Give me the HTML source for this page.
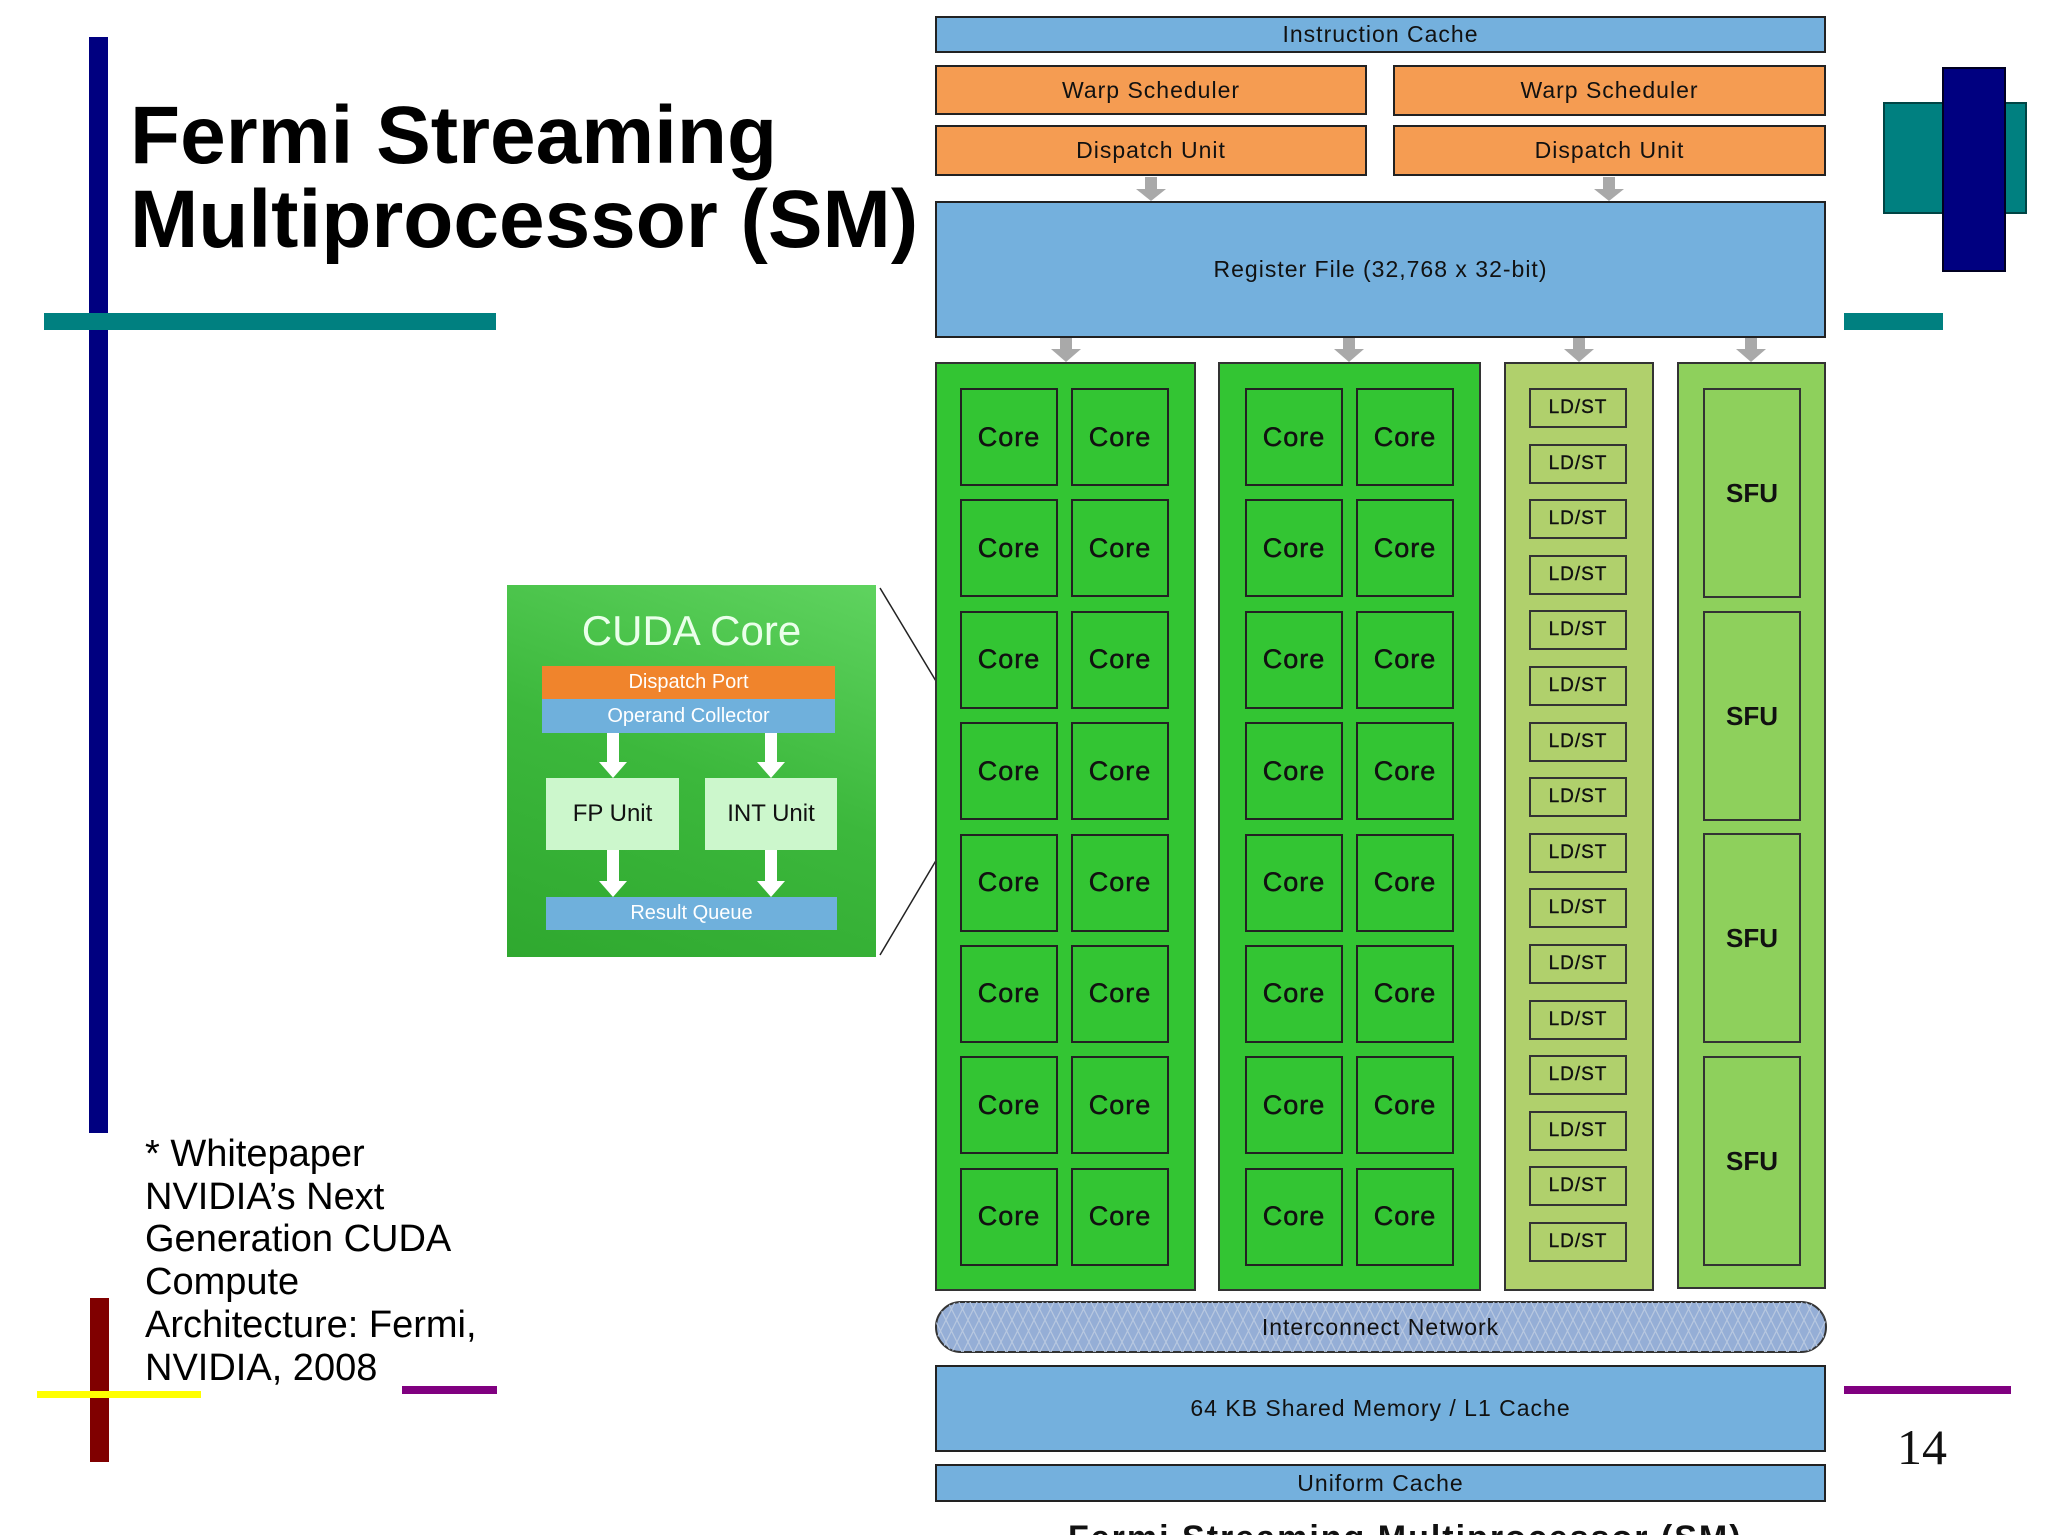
<!DOCTYPE html>
<html><head><meta charset="utf-8"><style>
*{margin:0;padding:0;box-sizing:border-box}
html,body{width:2048px;height:1535px;overflow:hidden}
body{background:#fff;position:relative;font-family:"Liberation Sans",sans-serif}
.a{position:absolute}
.box{position:absolute;display:flex;align-items:center;justify-content:center;border:2px solid #222;color:#111;font-size:23px;letter-spacing:1px}
.blue{background:#74b0dd}
.or{background:#f59c52}
.blk{position:absolute;border:2px solid #333}
.grid{position:absolute;display:grid;grid-template-columns:98px 98px;column-gap:13px;grid-auto-rows:98px;row-gap:13.4px}
.grid div{border:2px solid #222;background:#33c533;display:flex;align-items:center;justify-content:center;font-size:27px;color:#111;letter-spacing:1px;-webkit-text-stroke:0.5px #111}
.ld{position:absolute;left:1529px;width:98px;height:40px;border:2px solid #333;background:#b0d06c;display:flex;align-items:center;justify-content:center;font-size:19px;color:#111;letter-spacing:1px;-webkit-text-stroke:0.4px #111}
.sfu{position:absolute;left:1703px;width:98px;height:210px;border:2px solid #333;background:#8ed05c;display:flex;align-items:center;justify-content:center;font-size:26px;font-weight:bold;color:#111}
</style></head><body>

<div class="a" style="left:89px;top:37px;width:19px;height:1096px;background:#000080"></div>
<div class="a" style="left:44px;top:313px;width:452px;height:17px;background:#008080"></div>
<div class="a" style="left:90px;top:1298px;width:19px;height:164px;background:#800000"></div>
<div class="a" style="left:37px;top:1391px;width:164px;height:7px;background:#ffff00"></div>
<div class="a" style="left:402px;top:1386px;width:95px;height:8px;background:#800080"></div>
<div class="a" style="left:1883px;top:102px;width:144px;height:112px;background:#008080;border:2px solid #044"></div>
<div class="a" style="left:1942px;top:67px;width:64px;height:205px;background:#000080;border:2px solid #002"></div>
<div class="a" style="left:1844px;top:313px;width:99px;height:17px;background:#008080"></div>
<div class="a" style="left:1844px;top:1386px;width:167px;height:8px;background:#800080"></div>
<div class="a" style="left:1897px;top:1418px;font-family:'Liberation Serif',serif;font-size:50px;color:#111">14</div>

<div class="a" style="left:130px;top:94px;font-size:82px;font-weight:bold;line-height:84px;color:#000">Fermi Streaming<br>Multiprocessor (SM)</div>

<div class="a" style="left:145px;top:1133px;font-size:38px;line-height:42.7px;color:#000">* Whitepaper<br>NVIDIA’s Next<br>Generation CUDA<br>Compute<br>Architecture: Fermi,<br>NVIDIA, 2008</div>

<div class="a" style="left:507px;top:585px;width:369px;height:372px;background:linear-gradient(200deg,#5fd35f 0%,#3cb83c 50%,#2fa82f 100%)"></div>
<div class="a" style="left:507px;top:607px;width:369px;text-align:center;color:#eaffea;font-size:42px">CUDA Core</div>
<div class="a" style="left:542px;top:666px;width:293px;height:33px;background:#f0842c;color:#fff;font-size:20px;display:flex;align-items:center;justify-content:center">Dispatch Port</div>
<div class="a" style="left:542px;top:699px;width:293px;height:34px;background:#6fb0dc;color:#fff;font-size:20px;display:flex;align-items:center;justify-content:center">Operand Collector</div>
<div class="a" style="left:546px;top:778px;width:133px;height:72px;background:#ccf7cc;color:#111;font-size:24px;display:flex;align-items:center;justify-content:center">FP Unit</div>
<div class="a" style="left:705px;top:778px;width:132px;height:72px;background:#ccf7cc;color:#111;font-size:24px;display:flex;align-items:center;justify-content:center">INT Unit</div>
<div class="a" style="left:546px;top:897px;width:291px;height:33px;background:#6fb0dc;color:#fff;font-size:20px;display:flex;align-items:center;justify-content:center">Result Queue</div>
<svg class="a" style="left:0;top:0" width="2048" height="1535">
<g fill="#fff">
<rect x="607" y="733" width="12" height="30"/><polygon points="599,762 627,762 613,778"/>
<rect x="765" y="733" width="12" height="30"/><polygon points="757,762 785,762 771,778"/>
<rect x="607" y="850" width="12" height="32"/><polygon points="599,881 627,881 613,897"/>
<rect x="765" y="850" width="12" height="32"/><polygon points="757,881 785,881 771,897"/>
</g>
<line x1="880" y1="588" x2="960" y2="721" stroke="#222" stroke-width="1.5"/>
<line x1="880" y1="955" x2="960" y2="820" stroke="#222" stroke-width="1.5"/>
<g fill="#a9a9a9">
<rect x="1145" y="177" width="12" height="14"/><polygon points="1136,189 1166,189 1151,201"/>
<rect x="1603" y="177" width="12" height="14"/><polygon points="1594,189 1624,189 1609,201"/>
<rect x="1060" y="338" width="12" height="14"/><polygon points="1051,349 1081,349 1066,362"/>
<rect x="1343" y="338" width="12" height="14"/><polygon points="1334,349 1364,349 1349,362"/>
<rect x="1573" y="338" width="12" height="14"/><polygon points="1564,349 1594,349 1579,362"/>
<rect x="1745" y="338" width="12" height="14"/><polygon points="1736,349 1766,349 1751,362"/>
</g>
<defs><pattern id="hx" width="22" height="22" patternUnits="userSpaceOnUse"><path d="M0,0 L11,22 L22,0 M0,22 L11,0 L22,22" stroke="#b8c8e0" stroke-width="1.2" fill="none"/></pattern></defs>
<rect x="936" y="1302" width="890" height="50" rx="25" fill="#95aed6" stroke="#333" stroke-width="2"/>
<rect x="936" y="1302" width="890" height="50" rx="25" fill="url(#hx)"/>
</svg>

<div class="box blue" style="left:935px;top:16px;width:891px;height:37px">Instruction Cache</div>
<div class="box or" style="left:935px;top:65px;width:432px;height:50px">Warp Scheduler</div>
<div class="box or" style="left:1393px;top:65px;width:433px;height:51px">Warp Scheduler</div>
<div class="box or" style="left:935px;top:125px;width:432px;height:51px">Dispatch Unit</div>
<div class="box or" style="left:1393px;top:125px;width:433px;height:51px">Dispatch Unit</div>
<div class="box blue" style="left:935px;top:201px;width:891px;height:137px">Register File (32,768 x 32-bit)</div>

<div class="blk" style="left:935px;top:362px;width:261px;height:929px;background:#33c533"></div>
<div class="blk" style="left:1218px;top:362px;width:263px;height:929px;background:#33c533"></div>
<div class="blk" style="left:1504px;top:362px;width:150px;height:929px;background:#b0d06c"></div>
<div class="blk" style="left:1677px;top:362px;width:149px;height:927px;background:#8ed05c"></div>

<div class="grid" style="left:960px;top:388px">
<div>Core</div><div>Core</div><div>Core</div><div>Core</div><div>Core</div><div>Core</div><div>Core</div><div>Core</div>
<div>Core</div><div>Core</div><div>Core</div><div>Core</div><div>Core</div><div>Core</div><div>Core</div><div>Core</div>
</div>
<div class="grid" style="left:1245px;top:388px">
<div>Core</div><div>Core</div><div>Core</div><div>Core</div><div>Core</div><div>Core</div><div>Core</div><div>Core</div>
<div>Core</div><div>Core</div><div>Core</div><div>Core</div><div>Core</div><div>Core</div><div>Core</div><div>Core</div>
</div>

<div class="ld" style="top:388px">LD/ST</div>
<div class="ld" style="top:444px">LD/ST</div>
<div class="ld" style="top:499px">LD/ST</div>
<div class="ld" style="top:555px">LD/ST</div>
<div class="ld" style="top:610px">LD/ST</div>
<div class="ld" style="top:666px">LD/ST</div>
<div class="ld" style="top:722px">LD/ST</div>
<div class="ld" style="top:777px">LD/ST</div>
<div class="ld" style="top:833px">LD/ST</div>
<div class="ld" style="top:888px">LD/ST</div>
<div class="ld" style="top:944px">LD/ST</div>
<div class="ld" style="top:1000px">LD/ST</div>
<div class="ld" style="top:1055px">LD/ST</div>
<div class="ld" style="top:1111px">LD/ST</div>
<div class="ld" style="top:1166px">LD/ST</div>
<div class="ld" style="top:1222px">LD/ST</div>

<div class="sfu" style="top:388px">SFU</div>
<div class="sfu" style="top:611px">SFU</div>
<div class="sfu" style="top:833px">SFU</div>
<div class="sfu" style="top:1056px">SFU</div>

<div class="a" style="left:935px;top:1302px;width:891px;height:50px;display:flex;align-items:center;justify-content:center;font-size:23px;letter-spacing:1px;color:#111">Interconnect Network</div>
<div class="box blue" style="left:935px;top:1365px;width:891px;height:87px">64 KB Shared Memory / L1 Cache</div>
<div class="box blue" style="left:935px;top:1464px;width:891px;height:38px">Uniform Cache</div>
<div class="a" style="left:1000px;top:1505px;width:800px;height:30px;overflow:hidden">
<div class="a" style="left:68px;top:13px;font-size:34px;line-height:40px;font-weight:bold;color:#111;letter-spacing:2px;white-space:nowrap">Fermi Streaming Multiprocessor (SM)</div>
</div>
</body></html>
